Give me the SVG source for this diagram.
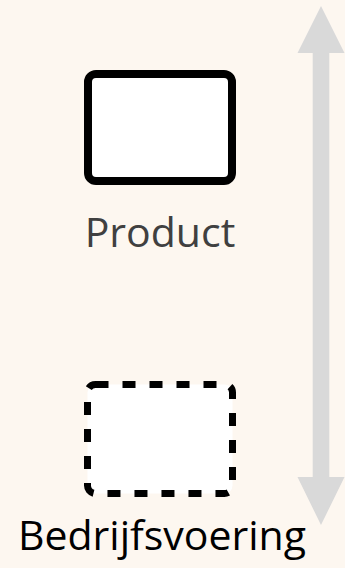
<svg xmlns="http://www.w3.org/2000/svg" width="345" height="568" viewBox="0 0 345 568">
  <style>
    .lbl { font-family: "Open Sans", "Noto Sans", sans-serif; font-size: 41px; text-anchor: middle; }
    .box { fill: #ffffff; stroke: #000000; }
  </style>
  <rect x="0" y="0" width="345" height="568" fill="#fdf7f0"/>
  <g id="connectors">
    <path d="M321,6 L344.5,53 L329.3,53 L329.3,477 L344.5,477 L321,525 L297.5,477 L312.7,477 L312.7,53 L297.5,53 Z" fill="#d9d9d9"/>
  </g>
  <g id="product">
    <rect class="box" x="88" y="74" width="144" height="107" rx="8" stroke-width="8"/>
    <text class="lbl" x="160" y="247" fill="#404040">Product</text>
  </g>
  <g id="bedrijfsvoering">
    <rect class="box" x="87.5" y="384.5" width="145" height="109" rx="8" stroke-width="7" stroke-dasharray="13 14"/>
    <text class="lbl" x="162" y="550" fill="#000000">Bedrijfsvoering</text>
  </g>
</svg>
